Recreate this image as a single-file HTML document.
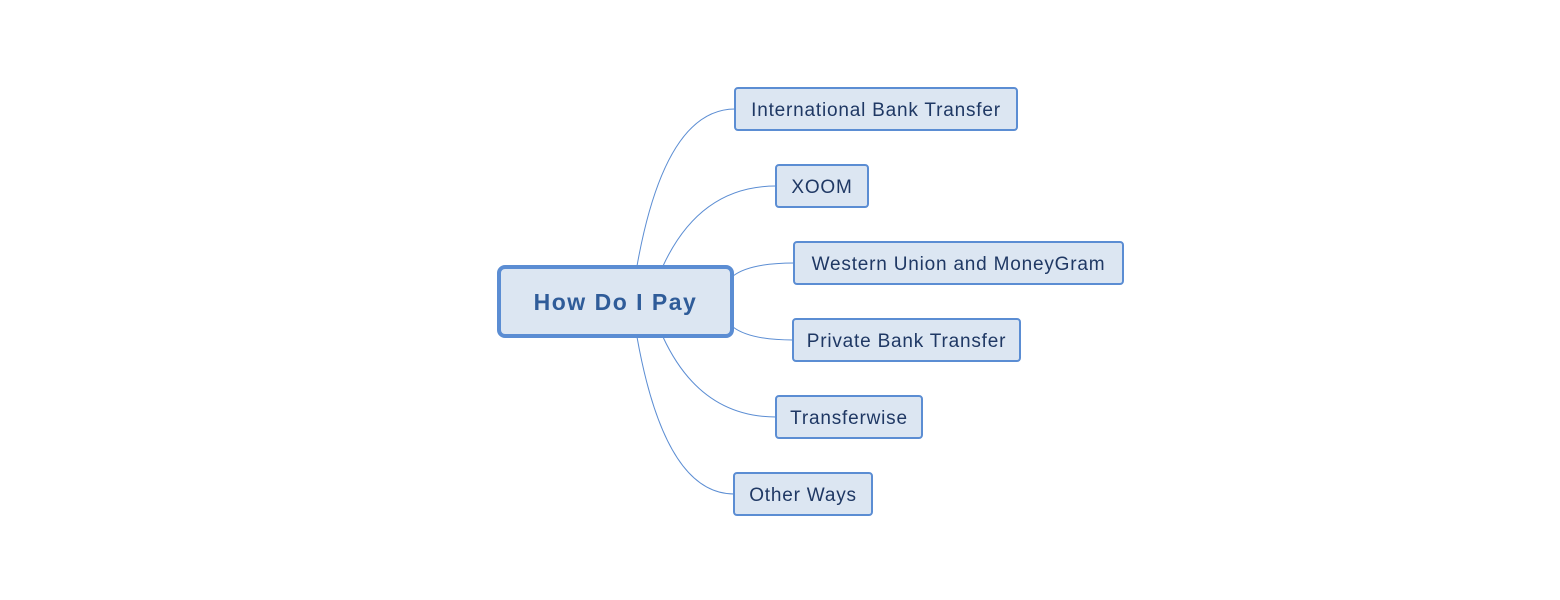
<!DOCTYPE html>
<html><head><meta charset="utf-8"><style>
body{margin:0;width:1560px;height:600px;background:#fff;position:relative;overflow:hidden;font-family:"Liberation Sans",sans-serif}
.n{position:absolute;box-sizing:border-box;height:44px;background:#dce6f2;border:2px solid #5b8dd3;border-radius:4px;color:#1f3864;font-size:19px;letter-spacing:0.8px;line-height:43px;text-align:center;white-space:nowrap}
.c{position:absolute;box-sizing:border-box;left:497px;top:265px;width:237px;height:73px;background:#dce6f2;border:4px solid #5b8dd3;border-radius:8px;color:#2f5c99;font-size:23px;letter-spacing:1.5px;font-weight:bold;line-height:66px;text-align:center}
svg{position:absolute;left:0;top:0}
</style></head><body>
<svg width="1560" height="600" fill="none" stroke="#5b8dd3" stroke-width="1">
<path d="M637,266 Q665,109 735,109"/>
<path d="M663,266 Q700,186 776,186"/>
<path d="M733,276 Q750,263 794,263"/>
<path d="M733,327 Q750,340 793,340"/>
<path d="M663,337 Q700,417 776,417"/>
<path d="M637,337 Q665,494 734,494"/>
</svg>
<div class="c">How Do I Pay</div>
<div class="n" style="left:734px;top:87px;width:284px">International Bank Transfer</div>
<div class="n" style="left:775px;top:164px;width:94px">XOOM</div>
<div class="n" style="left:793px;top:241px;width:331px">Western Union and MoneyGram</div>
<div class="n" style="left:792px;top:318px;width:229px">Private Bank Transfer</div>
<div class="n" style="left:775px;top:395px;width:148px">Transferwise</div>
<div class="n" style="left:733px;top:472px;width:140px">Other Ways</div>
</body></html>
